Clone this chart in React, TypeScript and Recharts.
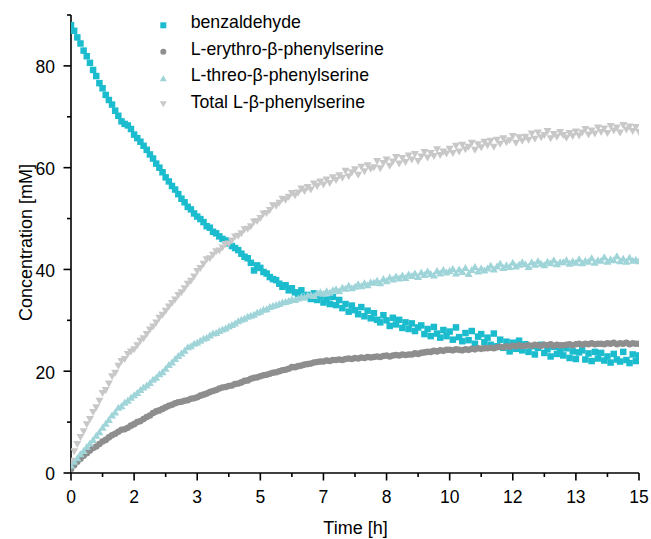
import React from "react";
import { ScatterChart, Scatter, XAxis, YAxis } from "recharts";

if (typeof document !== "undefined") {
  document.body.style.margin = "0";
}

const FONT = '"Liberation Sans", Arial, Helvetica, sans-serif';

// Sampling times [min]; the axis shows hours
const timesMin = [
  0, 5, 10, 15, 20, 25, 30, 35, 40, 45, 50, 55,
  60, 65, 70, 75, 80, 85, 90, 95, 100, 105, 110, 115,
  120, 125, 130, 135, 140, 145, 150, 155, 160, 165, 170, 175,
  180, 185, 190, 195, 200, 205, 210, 215, 220, 225, 230, 235,
  240, 245, 250, 255, 260, 265, 270, 275, 280, 285, 290, 295,
  300, 305, 310, 315, 320, 325, 330, 335, 340, 345, 350, 355,
  360, 365, 370, 375, 380, 385, 390, 395, 400, 405, 410, 415,
  420, 425, 430, 435, 440, 445, 450, 455, 460, 465, 470, 475,
  480, 485, 490, 495, 500, 505, 510, 515, 520, 525, 530, 535,
  540, 545, 550, 555, 560, 565, 570, 575, 580, 585, 590, 595,
  600, 605, 610, 615, 620, 625, 630, 635, 640, 645, 650, 655,
  660, 665, 670, 675, 680, 685, 690, 695, 700, 705, 710, 715,
  720, 725, 730, 735, 740, 745, 750, 755, 760, 765, 770, 775,
  780, 785, 790, 795, 800, 805, 810, 815, 820, 825, 830, 835,
  840, 845, 850, 855, 860, 865, 870, 875, 880, 885, 890, 895,
  900,
];

// Concentration [mM]
const benzaldehyde = [
  88.0, 86.9, 85.6, 84.4, 83.0, 81.9, 80.6, 79.2, 78.0, 76.6, 75.6, 74.3,
  73.3, 72.4, 71.2, 70.2, 69.1, 68.6, 68.3, 67.6, 66.5, 65.8, 65.1, 64.3,
  63.5, 62.6, 61.8, 60.8, 60.0, 59.1, 58.1, 57.3, 56.4, 55.7, 54.8, 53.9,
  53.2, 52.3, 51.8, 51.0, 50.4, 49.9, 49.3, 48.5, 48.2, 47.4, 47.1, 46.5,
  46.0, 45.7, 45.1, 44.6, 44.2, 43.8, 43.1, 42.5, 42.2, 41.3, 39.8, 40.8,
  40.3, 39.5, 39.2, 38.5, 38.1, 37.9, 37.2, 36.6, 36.9, 35.9, 36.3, 35.5,
  35.2, 35.9, 34.6, 35.0, 34.2, 35.3, 34.0, 34.7, 33.5, 34.1, 33.2, 34.6,
  33.0, 34.0, 32.4, 33.2, 31.7, 32.9, 32.0, 31.2, 32.6, 30.8, 31.9, 30.4,
  31.4, 30.1, 29.6, 31.0, 30.0, 28.9, 30.5, 29.2, 30.1, 28.5, 29.6, 28.3,
  29.4, 27.9, 28.6, 29.0, 27.3, 28.3, 26.9, 28.7, 27.4, 26.6, 28.1, 26.9,
  27.8, 26.2, 28.6, 26.7, 25.9, 27.5, 26.1, 27.9, 25.4, 26.8, 27.3, 25.7,
  26.6, 25.2, 27.4, 24.9, 26.2, 24.6, 25.8, 23.9, 25.6, 24.4, 26.0, 24.1,
  25.3, 23.8, 24.9, 23.3, 24.6, 25.2, 23.6, 24.3, 22.9, 24.8, 23.4, 24.0,
  23.1, 24.5, 22.6, 23.9, 22.4, 23.7, 24.1, 22.3, 23.5, 22.0, 23.8, 22.5,
  23.6, 22.1, 22.9, 21.7, 23.4, 22.3, 21.9, 23.8, 22.2, 21.6, 23.3, 22.0,
  23.1,
];

const erythro = [
  0.8, 1.5, 2.2, 2.8, 3.4, 3.9, 4.4, 4.9, 5.2, 5.7, 6.2, 6.5,
  7.0, 7.4, 7.7, 8.1, 8.5, 8.6, 8.9, 9.3, 9.6, 10.0, 10.2, 10.6,
  11.0, 11.3, 11.8, 12.1, 12.3, 12.6, 12.9, 13.2, 13.4, 13.7, 13.9, 14.0,
  14.2, 14.3, 14.6, 14.7, 14.9, 15.2, 15.4, 15.6, 15.9, 16.1, 16.3, 16.6,
  16.8, 16.9, 17.1, 17.2, 17.5, 17.6, 17.8, 18.1, 18.2, 18.5, 18.7, 18.8,
  19.0, 19.2, 19.3, 19.5, 19.7, 19.8, 20.0, 20.2, 20.3, 20.5, 20.8, 20.8,
  21.0, 21.1, 21.3, 21.4, 21.5, 21.7, 21.8, 21.9, 21.9, 22.1, 22.0, 22.2,
  22.2, 22.3, 22.2, 22.4, 22.5, 22.4, 22.6, 22.5, 22.7, 22.6, 22.8, 22.7,
  22.8, 22.9, 22.8, 23.0, 23.1, 22.9, 23.1, 23.2, 23.1, 23.3, 23.2, 23.3,
  23.3, 23.5, 23.4, 23.6, 23.7, 23.8, 23.8, 24.0, 23.9, 24.1, 24.0, 24.2,
  24.2, 24.1, 24.3, 24.2, 24.1, 24.3, 24.2, 24.4, 24.3, 24.5, 24.4, 24.5,
  24.5, 24.6, 24.5, 24.7, 24.8, 24.7, 24.9, 24.8, 25.0, 24.9, 25.1, 24.9,
  25.0, 25.1, 25.0, 25.2, 25.1, 25.0, 25.2, 25.1, 25.3, 25.0, 25.2, 25.1,
  25.1, 25.2, 25.3, 25.1, 25.3, 25.4, 25.2, 25.4, 25.3, 25.5, 25.3, 25.4,
  25.4, 25.3, 25.5, 25.4, 25.6, 25.3, 25.5, 25.4, 25.6, 25.3, 25.5, 25.4,
  25.4,
];

const threo = [
  1.5, 2.3, 3.0, 3.8, 4.4, 5.2, 5.9, 6.6, 7.4, 8.1, 9.0, 9.8,
  10.5, 11.4, 12.0, 12.9, 13.2, 13.9, 14.3, 14.9, 15.4, 15.8, 16.4, 16.9,
  17.3, 17.8, 18.4, 18.8, 19.5, 19.9, 20.6, 21.3, 21.8, 22.5, 23.1, 23.6,
  24.1, 24.8, 25.0, 25.5, 25.7, 26.1, 26.5, 26.7, 27.1, 27.5, 27.6, 28.0,
  28.3, 28.5, 28.9, 29.2, 29.5, 29.9, 30.2, 30.4, 30.8, 31.0, 31.2, 31.6,
  31.8, 32.2, 32.3, 32.7, 32.9, 33.1, 33.3, 33.6, 33.7, 33.9, 34.2, 34.1,
  34.4, 34.7, 34.6, 35.0, 35.1, 34.9, 35.4, 35.6, 35.3, 35.8, 35.5, 36.0,
  36.2, 35.8, 36.5, 36.3, 36.9, 36.4, 36.7, 37.2, 36.8, 37.4, 37.0, 37.6,
  37.5, 37.9, 37.4, 38.2, 37.8, 38.5, 38.1, 38.7, 38.3, 38.9, 38.4, 39.1,
  38.8, 39.3, 38.6, 39.5, 39.0, 39.7, 39.2, 38.9, 39.8, 39.3, 40.0, 39.5,
  39.8, 40.2, 39.3, 40.1, 39.6, 40.4, 39.2, 40.0, 40.6, 39.7, 40.3, 39.9,
  40.3, 40.8, 40.1, 40.7, 41.2, 40.4, 40.9, 40.6, 41.4, 40.7, 41.0, 41.5,
  41.1, 40.6, 41.5, 41.0, 41.7, 41.2, 40.9, 41.6, 41.3, 41.9, 41.1, 41.5,
  41.5, 41.9, 41.2, 41.7, 41.4, 42.1, 41.3, 41.8, 41.6, 42.3, 41.4, 41.9,
  41.8, 42.5, 41.6, 42.1, 41.9, 42.7, 41.7, 42.2, 41.6, 42.4, 41.8, 42.0,
  41.7,
];

const total = [
  2.3, 4.2, 5.6, 7.0, 8.1, 9.5, 10.5, 11.9, 12.8, 14.1, 15.6, 16.2,
  17.5, 18.9, 19.6, 21.0, 21.9, 22.3, 23.3, 23.8, 24.2, 25.0, 25.9, 26.4,
  27.2, 28.1, 28.7, 29.5, 30.4, 31.0, 31.8, 32.6, 33.3, 34.0, 34.9, 35.4,
  36.2, 37.1, 37.7, 38.5, 39.6, 40.2, 41.0, 41.9, 42.1, 42.8, 43.5, 43.6,
  44.2, 44.9, 45.0, 45.6, 46.4, 46.5, 47.0, 47.8, 47.9, 48.4, 49.3, 49.4,
  50.0, 50.9, 51.0, 51.6, 52.5, 52.4, 53.0, 53.8, 53.6, 54.2, 54.9, 54.5,
  55.0, 55.8, 55.3, 56.1, 55.6, 56.8, 56.3, 57.2, 56.6, 57.6, 56.9, 58.0,
  57.5, 58.4, 57.9, 59.3, 58.2, 59.0, 59.6, 58.5, 60.1, 59.2, 60.4, 59.7,
  60.0, 61.2, 59.8, 60.8, 61.5, 60.3, 61.1, 62.0, 60.7, 61.8, 61.0, 62.3,
  61.5, 62.6, 61.2, 62.1, 63.0, 61.9, 62.8, 62.2, 63.5, 62.4, 63.1, 62.7,
  63.6, 62.8, 64.2, 63.1, 64.4, 63.5, 64.0, 64.8, 63.4, 64.5, 63.9, 65.0,
  64.3, 65.2, 64.0, 65.4, 64.6, 65.7, 64.9, 65.3, 66.1, 64.8, 65.9, 65.2,
  66.0, 65.4, 66.6, 65.6, 66.8, 65.9, 66.3, 67.1, 65.7, 66.5, 66.0, 66.9,
  66.3, 65.8, 66.7, 66.1, 67.0, 66.2, 66.8, 67.5, 66.4, 67.2, 66.6, 67.8,
  66.9, 67.6, 66.7, 68.1, 67.2, 67.8, 66.8, 68.3, 67.4, 68.0, 67.1, 67.9,
  66.9,
];

const seriesNames = [
  "benzaldehyde",
  "L-erythro-\u03b2-phenylserine",
  "L-threo-\u03b2-phenylserine",
  "Total L-\u03b2-phenylserine",
];
const seriesColors = ["#1cbccf", "#8e8e8e", "#9fd4d9", "#c8c8c8"];

// axis ticks in minutes (labels shown in hours, rounded)
const xMajorTicks = [0, 100, 200, 300, 400, 500, 600, 700, 800, 900];
const xMinorTicks = [50, 150, 250, 350, 450, 550, 650, 750, 850];
const yMajorTicks = [0, 20, 40, 60, 80];
const yMinorTicks = [10, 30, 50, 70, 90];

const allXTicks = [...xMajorTicks, ...xMinorTicks].sort((a, b) => a - b);
const allYTicks = [...yMajorTicks, ...yMinorTicks].sort((a, b) => a - b);

const toPoints = (vals: number[]) => timesMin.map((t, i) => ({ x: t, y: vals[i] }));
const benzData = toPoints(benzaldehyde);
const erythroData = toPoints(erythro);
const threoData = toPoints(threo);
const totalData = toPoints(total);

const isIn = (v: number, arr: number[]) => arr.some((a) => Math.abs(a - v) < 1e-6);

const AXIS_W = 1.6;
const TICK_FS = 17.5;

const XTick = (props: any) => {
  const { x, y, payload } = props;
  const v = payload.value;
  const major = isIn(v, xMajorTicks);
  return (
    <g>
      <line x1={x} x2={x} y1={y} y2={y + (major ? 7.5 : 4)} stroke="#000" strokeWidth={AXIS_W} />
      {major && (
        <text x={x} y={y + 29.5} textAnchor="middle" fontSize={TICK_FS} fontFamily={FONT} fill="#000">
          {Math.round(v / 60)}
        </text>
      )}
    </g>
  );
};

const YTick = (props: any) => {
  const { x, y, payload } = props;
  const v = payload.value;
  const major = isIn(v, yMajorTicks);
  return (
    <g>
      <line x1={x} x2={x - (major ? 7.5 : 4)} y1={y} y2={y} stroke="#000" strokeWidth={AXIS_W} />
      {major && (
        <text x={x - 16} y={y + 7.4} textAnchor="end" fontSize={TICK_FS} fontFamily={FONT} fill="#000">
          {Math.round(v)}
        </text>
      )}
    </g>
  );
};

const squareShape = (color: string, s: number) => (p: any) =>
  <rect x={p.cx - s / 2} y={p.cy - s / 2} width={s} height={s} fill={color} />;
const circleShape = (color: string, r: number) => (p: any) =>
  <circle cx={p.cx} cy={p.cy} r={r} fill={color} />;
const triUpShape = (color: string, w: number, h: number) => (p: any) => (
  <polygon
    points={`${p.cx - w / 2},${p.cy + h / 2} ${p.cx + w / 2},${p.cy + h / 2} ${p.cx},${p.cy - h / 2}`}
    fill={color}
  />
);
const triDownShape = (color: string, w: number, h: number) => (p: any) => (
  <polygon
    points={`${p.cx - w / 2},${p.cy - h / 2} ${p.cx + w / 2},${p.cy - h / 2} ${p.cx},${p.cy + h / 2}`}
    fill={color}
  />
);

const LegendOverlay = () => {
  const mx = 163.3;
  const tx = 190.7;
  const baselines = [28.3, 54.8, 81.2, 107.7];
  const centers = [25.3, 51.7, 78.3, 104.3];
  return (
    <svg
      width={651}
      height={539}
      style={{ position: "absolute", left: 0, top: 0, pointerEvents: "none" }}
    >
      <rect x={mx - 3} y={centers[0] - 3} width={6} height={6} fill={seriesColors[0]} />
      <circle cx={mx} cy={centers[1]} r={3} fill={seriesColors[1]} />
      <polygon
        points={`${mx - 3.5},${centers[2] + 3} ${mx + 3.5},${centers[2] + 3} ${mx},${centers[2] - 3}`}
        fill={seriesColors[2]}
      />
      <polygon
        points={`${mx - 3.5},${centers[3] - 3} ${mx + 3.5},${centers[3] - 3} ${mx},${centers[3] + 3}`}
        fill={seriesColors[3]}
      />
      {seriesNames.map((n, i) => (
        <text key={n} x={tx} y={baselines[i]} fontSize={17.7} fontFamily={FONT} fill="#000">
          {n}
        </text>
      ))}
      <text
        transform="translate(31.5, 242.5) rotate(-90)"
        textAnchor="middle"
        fontSize={18}
        fontFamily={FONT}
        fill="#000"
      >
        Concentration [mM]
      </text>
      <text x={355.5} y={534.3} textAnchor="middle" fontSize={18} fontFamily={FONT} fill="#000">
        Time [h]
      </text>
    </svg>
  );
};

export default function App() {
  return (
    <div style={{ position: "relative", width: 651, height: 539, background: "#fff" }}>
      <ScatterChart width={651} height={539} margin={{ top: 15, right: 12, left: 0, bottom: 0 }}>
        <XAxis
          dataKey="x"
          type="number"
          domain={[0, 900]}
          ticks={allXTicks}
          interval={0}
          height={66}
          tickSize={0}
          tickMargin={0}
          tickLine={false}
          axisLine={{ stroke: "#000", strokeWidth: AXIS_W }}
          tick={<XTick />}
          allowDataOverflow
        />
        <YAxis
          dataKey="y"
          type="number"
          domain={[0, 90]}
          ticks={allYTicks}
          interval={0}
          width={71}
          tickSize={0}
          tickMargin={0}
          tickLine={false}
          axisLine={{ stroke: "#000", strokeWidth: AXIS_W }}
          tick={<YTick />}
          allowDataOverflow
        />
        <Scatter
          name={seriesNames[0]}
          data={benzData}
          isAnimationActive={false}
          shape={squareShape(seriesColors[0], 6.5)}
        />
        <Scatter
          name={seriesNames[1]}
          data={erythroData}
          isAnimationActive={false}
          shape={circleShape(seriesColors[1], 3.3)}
        />
        <Scatter
          name={seriesNames[2]}
          data={threoData}
          isAnimationActive={false}
          shape={triUpShape(seriesColors[2], 8, 7)}
        />
        <Scatter
          name={seriesNames[3]}
          data={totalData}
          isAnimationActive={false}
          shape={triDownShape(seriesColors[3], 8, 7)}
        />
      </ScatterChart>
      <LegendOverlay />
    </div>
  );
}
